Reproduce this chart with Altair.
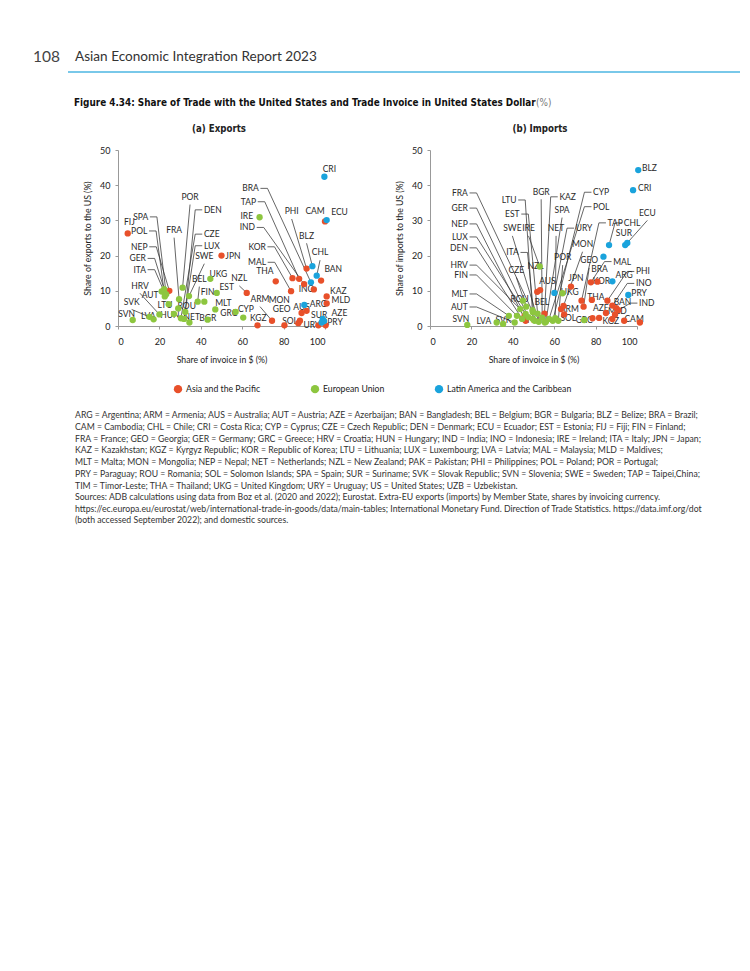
import altair as alt
import pandas as pd

RED, GREEN, BLUE = "#e8502a", "#8dc63f", "#1aa3dc"
REGIONS = ["Asia and the Pacific", "European Union", "Latin America and the Caribbean"]
COND = "Liberation Sans Narrow, DejaVu Sans Condensed, Roboto"
BODY = "Lato"

# ---------------- (a) Exports ----------------
EXP_ASIA_CODE = ["FIJ", "NEP", "JPN", "NZL", "KGZ", "ARM", "SOL", "THA", "MAL", "KOR", "TAP", "IND",
                 "PHI", "BAN", "INO", "KAZ", "MLD", "CAM", "AUS", "MON", "GEO", "UZB", "AZE", "PAK"]
EXP_ASIA_X = [4.7, 24.8, 50.0, 62.2, 67.4, 74.4, 80.4, 76.2, 83.6, 84.3, 87.5, 89.9,
              91.1, 98.1, 94.6, 100.8, 100.8, 100.0, 91.1, 88.7, 87.9, 96.8, 100.3, 87.1]
EXP_ASIA_Y = [26.3, 10.0, 20.0, 9.4, 0.2, 1.5, 0.2, 12.7, 9.9, 13.6, 13.4, 11.9,
              16.3, 12.9, 10.4, 8.4, 6.4, 29.7, 4.3, 3.7, 1.5, 0.2, 0.2, 0.8]
EXP_ASIA_LX = [5.5, 14.3, 55.5, 58.6, 67.8, 68.6, 83.1, 71.0, 71.5, 71.4, 66.7, 66.2,
               83.9, 104.0, 91.1, 106.4, 107.7, 95.2, 88.7, 77.9, 79.1, None, 107.0, None]
EXP_ASIA_LY = [29.5, 22.5, 20.0, 13.6, 2.3, 7.7, 1.5, 15.7, 18.1, 22.5, 35.3, 28.0,
               32.6, 16.2, 10.5, 10.0, 7.5, 32.6, 5.3, 7.3, 4.8, None, 3.7, None]
EXP_ASIA_MODE = ["C", "L", "C", "B", "C", "B", "C", "C", "L", "L", "L", "L",
                 "B", "C", "C", "C", "C", "C", "C", "C", "C", None, "C", None]

EXP_EU_CODE = ["SVN", "LVA", "SVK", "HRV", "AUT", "ITA", "GER", "SPA", "POL", "LTU", "HUN", "ROU", "FRA", "DEN",
               "CZE", "LUX", "POR", "SWE", "NET", "BEL", "EST", "BGR", "UKG", "FIN", "MLT", "GRC", "CYP", "IRE"]
EXP_EU_X = [7.1, 17.2, 15.2, 20.0, 21.1, 22.7, 22.3, 23.3, 22.6, 24.5, 27.0, 29.1, 29.5, 32.5,
            30.4, 31.9, 31.2, 34.3, 34.5, 38.5, 41.7, 43.3, 44.6, 47.7, 47.0, 56.8, 60.5, 68.4]
EXP_EU_Y = [1.7, 1.9, 2.6, 3.3, 9.8, 9.2, 10.5, 9.0, 8.4, 6.2, 3.4, 5.0, 7.6, 4.0,
            2.2, 2.0, 10.9, 8.5, 1.0, 6.9, 6.9, 1.8, 13.4, 9.4, 4.7, 4.0, 2.4, 30.9]
EXP_EU_LX = [4.2, 14.6, 6.6, 10.6, 15.5, 13.5, 13.5, 14.6, 14.2, 22.7, 25.1, 33.2, 27.1, 41.5,
             41.5, 41.5, 34.8, 41.7, 35.6, 39.3, 52.5, 43.4, 48.5, 43.3, 50.9, 53.5, 61.8, 62.2]
EXP_EU_LY = [3.5, 2.9, 6.9, 11.5, 8.9, 16.0, 19.2, 31.0, 27.0, 6.1, 3.2, 5.8, 27.3, 33.0,
             26.1, 22.8, 36.7, 19.9, 2.5, 13.4, 11.2, 2.3, 14.8, 9.7, 6.5, 3.8, 4.8, 31.2]
EXP_EU_MODE = ["C", "C", "B", "B", "C", "L", "L", "L", "L", "C", "C", "C", "B", "R",
               "R", "R", "B", "B", "C", "B", "C", "C", "C", "C", "C", "C", "C", "C"]

EXP_LAC_CODE = ["CRI", "ECU", "BLZ", "CHL", "BRA", "ARG", "SUR", "URY", "PRY"]
EXP_LAC_X = [99.7, 100.8, 93.9, 96.0, 93.2, 90.0, 98.9, 98.4, 99.6]
EXP_LAC_Y = [42.4, 30.1, 17.0, 14.3, 12.4, 6.0, 2.0, 1.0, 1.4]
EXP_LAC_LX = [102.1, 107.0, 91.1, 97.6, 68.0, 96.8, 97.2, 93.6, 104.8]
EXP_LAC_LY = [44.6, 32.3, 25.7, 20.9, 39.1, 6.2, 3.0, 0.3, 1.2]
EXP_LAC_MODE = ["C", "C", "B", "B", "L", "C", "C", "C", "C"]

# ---------------- (b) Imports ----------------
IMP_ASIA_CODE = ["NEP", "FIJ", "NZL", "AUS", "KAZ", "ARM", "MON", "SOL", "JPN", "TAP", "GEO", "MAL", "KOR",
                 "THA", "PHI", "INO", "BAN", "IND", "AZE", "MLD", "UZB", "PAK", "KGZ", "TIM", "CAM"]
IMP_ASIA_X = [46.2, 45.7, 51.8, 53.2, 55.3, 63.3, 64.5, 64.8, 68.1, 73.2, 74.2, 77.7, 80.9,
              78.2, 85.7, 88.1, 90.0, 91.0, 85.0, 89.4, 78.5, 81.7, 88.1, 93.8, 101.4]
IMP_ASIA_Y = [1.5, 2.9, 9.7, 10.2, 3.5, 4.8, 5.7, 3.3, 11.2, 7.2, 5.5, 12.4, 12.6,
              7.4, 7.2, 5.8, 5.1, 4.5, 3.7, 3.3, 2.2, 2.3, 2.0, 1.5, 1.0]
IMP_ASIA_LX = [18.3, None, 51.0, 56.7, 62.5, 67.3, 73.7, 66.8, 70.5, 85.8, 76.9, 88.5, 82.8,
               80.1, 99.5, 99.5, 93.0, 101.0, 82.5, 90.5, None, None, 87.3, None, 98.6]
IMP_ASIA_LY = [29.0, None, 17.1, 12.8, 36.7, 4.8, 23.3, 2.2, 13.5, 29.3, 18.7, 18.3, 12.9,
               8.2, 15.5, 12.1, 6.7, 6.5, 5.0, 4.2, None, None, 1.5, None, 2.0]
IMP_ASIA_MODE = ["L", None, "C", "C", "R", "C", "B", "C", "C", "R", "B", "R", "C",
                 "C", "R", "R", "C", "R", "C", "C", None, None, "C", None, "C"]

IMP_EU_CODE = ["SVN", "LVA", "SVK", "MLT", "AUT", "FIN", "HRV", "DEN", "LUX", "GER", "FRA", "CZE", "ROU", "ITA",
               "BEL", "LTU", "EST", "BGR", "SWE", "IRE", "HUN", "SPA", "POL", "CYP", "NET", "POR", "GRC", "UKG"]
IMP_EU_X = [18.0, 32.2, 35.3, 38.1, 40.9, 42.0, 43.6, 44.5, 46.2, 47.5, 49.7, 46.5, 44.9, 50.5,
            49.5, 49.7, 52.0, 54.2, 52.5, 53.0, 55.5, 56.0, 57.5, 59.3, 60.5, 62.0, 74.5, 64.0]
IMP_EU_Y = [0.3, 1.0, 0.6, 2.9, 1.0, 2.9, 4.8, 2.0, 3.4, 2.5, 3.9, 5.5, 7.2, 1.5,
            4.5, 2.0, 3.5, 2.4, 1.2, 16.9, 1.0, 1.2, 2.0, 1.5, 2.2, 1.5, 1.7, 9.3]
IMP_EU_LX = [14.9, 26.0, 35.5, 18.3, 18.3, 18.3, 18.3, 18.3, 18.3, 18.3, 18.3, 41.7, 43.3, 42.9,
             54.0, 41.8, 43.3, 53.7, 39.8, 47.6, 51.5, 63.8, 78.8, 78.8, 60.9, 64.1, 74.5, 67.5]
IMP_EU_LY = [2.0, 1.5, 1.8, 9.1, 5.4, 14.5, 17.3, 22.2, 25.3, 33.5, 37.8, 16.0, 7.7, 20.9,
             6.8, 35.8, 31.8, 38.2, 27.8, 27.8, 1.8, 33.0, 33.9, 38.0, 27.8, 19.5, 1.7, 9.6]
IMP_EU_MODE = ["C", "C", "C", "L", "L", "L", "L", "L", "L", "L", "L", "B", "C", "L",
               "C", "L", "L", "B", "B", "B", "C", "B", "R", "R", "B", "B", "C", "C"]

IMP_LAC_CODE = ["BLZ", "CRI", "ECU", "SUR", "CHL", "BRA", "ARG", "PRY", "URY"]
IMP_LAC_X = [100.6, 98.1, 95.3, 94.3, 86.5, 83.8, 88.1, 95.8, 60.1]
IMP_LAC_Y = [44.3, 38.6, 23.6, 23.0, 23.0, 19.7, 12.7, 8.8, 9.4]
IMP_LAC_LX = [106.0, 103.7, 105.0, 93.7, 93.6, 81.9, 93.8, 101.0, 70.4]
IMP_LAC_LY = [45.0, 39.2, 32.2, 26.3, 29.3, 16.1, 14.5, 9.3, 27.8]
IMP_LAC_MODE = ["C", "C", "B", "C", "R", "C", "C", "C", "R"]

X_TICKS = [0, 20, 40, 60, 80, 100]
Y_TICKS = [0, 10, 20, 30, 40, 50]

NOTES = [
    "ARG = Argentina; ARM = Armenia; AUS = Australia; AUT = Austria; AZE = Azerbaijan; BAN = Bangladesh; BEL = Belgium; BGR = Bulgaria; BLZ = Belize; BRA = Brazil;",
    "CAM = Cambodia; CHL = Chile; CRI = Costa Rica; CYP = Cyprus; CZE = Czech Republic; DEN = Denmark; ECU = Ecuador; EST = Estonia; FIJ = Fiji; FIN = Finland;",
    "FRA = France; GEO = Georgia; GER = Germany; GRC = Greece; HRV = Croatia; HUN = Hungary; IND = India; INO = Indonesia; IRE = Ireland; ITA = Italy; JPN = Japan;",
    "KAZ = Kazakhstan; KGZ = Kyrgyz Republic;  KOR = Republic of Korea; LTU = Lithuania; LUX = Luxembourg; LVA = Latvia; MAL = Malaysia; MLD = Maldives;",
    "MLT = Malta; MON = Mongolia; NEP = Nepal; NET = Netherlands; NZL = New Zealand; PAK = Pakistan; PHI = Philippines; POL = Poland; POR = Portugal;",
    "PRY = Paraguay; ROU = Romania; SOL = Solomon Islands; SPA = Spain; SUR = Suriname; SVK = Slovak Republic; SVN = Slovenia; SWE = Sweden; TAP = Taipei,China;",
    "TIM = Timor-Leste; THA = Thailand; UKG = United Kingdom; URY = Uruguay; US = United States; UZB = Uzbekistan.",
]
SOURCES = [
    "Sources: ADB calculations using data from Boz et al. (2020 and 2022); Eurostat. Extra-EU exports (imports) by Member State, shares by invoicing currency.",
    "https://ec.europa.eu/eurostat/web/international-trade-in-goods/data/main-tables; International Monetary Fund. Direction of Trade Statistics. https://data.imf.org/dot",
    "(both accessed September 2022); and domestic sources.",
]

GAP, STUB, DROP = 0.8, 3.4, 2.2
ALIGN = {"L": "right", "R": "left", "B": "center", "C": "center"}


def build_tables(groups):
    pts, labs, lines = [], [], []
    for region, codes, xs, ys, lxs, lys, modes in groups:
        for c, x, y, lx, ly, m in zip(codes, xs, ys, lxs, lys, modes):
            pts.append({"code": c, "x": x, "y": y, "region": region})
            if m is None:
                continue
            labs.append({"code": c, "x": lx, "y": ly, "align": ALIGN[m]})
            if m == "L":
                verts = [(lx + GAP, ly), (lx + GAP + STUB, ly), (x, y)]
            elif m == "R":
                verts = [(lx - GAP, ly), (lx - GAP - STUB, ly), (x, y)]
            elif m == "B":
                verts = [(lx, ly - DROP), (x, y)]
            else:
                verts = []
            for k, (vx, vy) in enumerate(verts):
                lines.append({"id": c, "k": k, "x": vx, "y": vy})
    return pd.DataFrame(pts), pd.DataFrame(labs), pd.DataFrame(lines)


ONE = pd.DataFrame({"k": [0]})


def txt(text, x, y, size, **kw):
    opts = dict(align="left", baseline="middle", font=BODY, color="#333")
    opts.update(kw)
    return alt.Chart(ONE).mark_text(text=text, fontSize=size, **opts).encode(
        x=alt.value(x), y=alt.value(y))


def panel(groups, title, title_x, ytitle, extras=()):
    pts, labs, lines = build_tables(groups)
    xenc = alt.X("x:Q", scale=alt.Scale(domain=[0, 100], nice=False),
                 axis=alt.Axis(values=X_TICKS, title="Share of invoice in $ (%)",
                               labelPadding=8, titlePadding=9))
    yenc = alt.Y("y:Q", scale=alt.Scale(domain=[0, 50], nice=False),
                 axis=alt.Axis(values=Y_TICKS, title=ytitle, labelPadding=5, titlePadding=7))
    line_layer = alt.Chart(lines).mark_line(color="#333", strokeWidth=0.75).encode(
        x=xenc, y=yenc, detail="id:N", order="k:Q")
    text_layers = []
    for al in ["left", "right", "center"]:
        text_layers.append(
            alt.Chart(labs).transform_filter(alt.datum.align == al)
            .mark_text(align=al, baseline="middle", fontSize=8.5, font=BODY, color="#2a2a2a")
            .encode(x=xenc, y=yenc, text="code:N"))
    point_layer = alt.Chart(pts).mark_circle(size=40, opacity=1).encode(
        x=xenc, y=yenc,
        color=alt.Color("region:N", scale=alt.Scale(domain=REGIONS, range=[RED, GREEN, BLUE]),
                        legend=alt.Legend(title=None, orient="none", legendX=55, legendY=234,
                                          direction="horizontal", symbolType="circle",
                                          symbolSize=70, columnPadding=49, labelOffset=3,
                                          labelFontSize=8.7, labelFont=BODY, labelColor="#222")))
    title_layer = txt(title, title_x, -21, 9.6, align="center", font=COND, fontWeight="bold", color="#222")
    return alt.layer(line_layer, *text_layers, point_layer, title_layer, *extras).properties(
        width=207, height=176)


exp_groups = [
    (REGIONS[0], EXP_ASIA_CODE, EXP_ASIA_X, EXP_ASIA_Y, EXP_ASIA_LX, EXP_ASIA_LY, EXP_ASIA_MODE),
    (REGIONS[1], EXP_EU_CODE, EXP_EU_X, EXP_EU_Y, EXP_EU_LX, EXP_EU_LY, EXP_EU_MODE),
    (REGIONS[2], EXP_LAC_CODE, EXP_LAC_X, EXP_LAC_Y, EXP_LAC_LX, EXP_LAC_LY, EXP_LAC_MODE),
]
imp_groups = [
    (REGIONS[0], IMP_ASIA_CODE, IMP_ASIA_X, IMP_ASIA_Y, IMP_ASIA_LX, IMP_ASIA_LY, IMP_ASIA_MODE),
    (REGIONS[1], IMP_EU_CODE, IMP_EU_X, IMP_EU_Y, IMP_EU_LX, IMP_EU_LY, IMP_EU_MODE),
    (REGIONS[2], IMP_LAC_CODE, IMP_LAC_X, IMP_LAC_Y, IMP_LAC_LX, IMP_LAC_LY, IMP_LAC_MODE),
]

header = [
    txt("108", -85, -93, 15.5, color="#444"),
    txt("Asian Economic Integration Report 2023", -43, -93, 13.6, color="#333"),
    alt.Chart(ONE).mark_rule(color="#4db6e2", strokeWidth=1.5).encode(
        x=alt.value(-50), x2=alt.value(622), y=alt.value(-78)),
    txt("Figure 4.34: Share of Trade with the United States and Trade Invoice in United States Dollar",
        -44, -47, 9.9, font=COND, fontWeight="bold", color="#111"),
    txt("(%)", 418, -47, 9.9, font=COND, color="#777"),
    alt.Chart(ONE).mark_text(text=NOTES, align="left", baseline="top", fontSize=8.7, lineHeight=11.8,
                             font=BODY, color="#333").encode(x=alt.value(-43), y=alt.value(261)),
    alt.Chart(ONE).mark_text(text=SOURCES, align="left", baseline="top", fontSize=8.7, lineHeight=11.6,
                             font=BODY, color="#333").encode(x=alt.value(-43), y=alt.value(343)),
]

exp_chart = panel(exp_groups, "(a) Exports", 101, "Share of exports to the US (%)", header)
imp_chart = panel(imp_groups, "(b) Imports", 110, "Share of imports to the US (%)")

chart = alt.hconcat(exp_chart, imp_chart, spacing=105, bounds="flush").properties(
    padding={"left": 25, "top": 42, "right": 0, "bottom": 5}
).configure_view(stroke=None).configure_axis(
    labelFont=BODY, titleFont=BODY, labelFontSize=9, titleFontSize=8.7, titleFontWeight="normal",
    labelColor="#222", titleColor="#222", domainColor="#999", tickColor="#999", tickSize=3, grid=False
)

chart.save("out.html", embed_options={"renderer": "svg", "actions": False})
